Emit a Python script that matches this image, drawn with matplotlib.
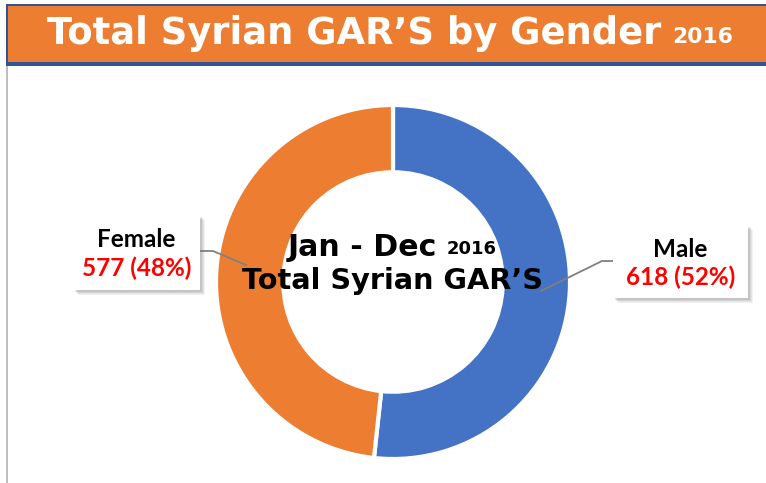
import matplotlib
matplotlib.use("Agg")
import matplotlib.pyplot as plt
from matplotlib.patches import Rectangle

categories = ["Male", "Female"]
values = [618, 577]
colors = ["#4472C4", "#ED7D31"]
title_main = "Total Syrian GAR\u2019S by Gender"
title_year = "2016"
center_line1 = "Jan - Dec"
center_year = "2016"
center_line2 = "Total Syrian GAR\u2019S"

W, H = 766, 483
fig = plt.figure(figsize=(W/100, H/100), dpi=100)
fig.patch.set_facecolor("white")

# pie axes
cx, cy, R = 393, 282, 177
pax = fig.add_axes([(cx-R)/W, (H-cy-R)/H, 2*R/W, 2*R/H])
pax.pie(values, colors=colors, startangle=90, counterclock=False, radius=1,
        wedgeprops=dict(width=0.38, edgecolor="white", linewidth=3))
pax.set_xlim(-1, 1); pax.set_ylim(-1, 1)
pax.axis("off")

# overlay axes in pixel coords
ax = fig.add_axes([0, 0, 1, 1], zorder=5)
ax.set_xlim(0, W); ax.set_ylim(H, 0)
ax.axis("off")
ax.patch.set_alpha(0)

# banner
ax.add_patch(Rectangle((6, 5), W-6, 59, facecolor="#ED7D31", edgecolor="none"))
ax.add_patch(Rectangle((6, 62), W-6, 4, facecolor="#2F5597", edgecolor="none"))
ax.add_patch(Rectangle((6, 4), W-6, 1.5, facecolor="#2F5597", edgecolor="none"))
ax.add_patch(Rectangle((6, 4), 1.5, 60, facecolor="#2F5597", edgecolor="none"))
ax.add_patch(Rectangle((6, 66), 2, H-66, facecolor="#BFBFBF", edgecolor="none"))

r = fig.canvas.get_renderer()

def width_px(t):
    return t.get_window_extent(renderer=r).width

def fit(t, target):
    w = width_px(t)
    t.set_fontsize(t.get_fontsize() * target / w)

tfont = dict(family="DejaVu Sans", weight="bold")
t1 = ax.text(47, 34, title_main, color="white", fontsize=28, va="center", ha="left", **tfont)
fit(t1, 613)
t2 = ax.text(672, 37, title_year, color="white", fontsize=20, va="center", ha="left", **tfont)
fit(t2, 61)

# center text
cfont = dict(family="DejaVu Sans", weight="bold")
c1 = ax.text(288, 247, center_line1, color="black", fontsize=20, va="center", ha="left", **cfont)
fit(c1, 149)
c1y = ax.text(447, 249, center_year, color="black", fontsize=15, va="center", ha="left", **cfont)
fit(c1y, 50)
c2 = ax.text(cx, 281, center_line2, color="black", fontsize=20, va="center", ha="center", **cfont)
fit(c2, 302)

# leader lines
ax.plot([200, 213, 246], [251, 251, 265], color="#808080", lw=1.3, zorder=1)
ax.plot([613, 602, 541], [261, 261, 291], color="#808080", lw=1.3, zorder=1)

# label boxes with soft shadow
def label_box(x, y, w, h, name, val):
    for d, a in [(6, 0.10), (5, 0.12), (4, 0.15), (3, 0.2)]:
        ax.add_patch(Rectangle((x+d-1, y+d-1), w, h, facecolor="#808080",
                               edgecolor="none", alpha=a, zorder=2))
    ax.add_patch(Rectangle((x, y), w, h, facecolor="white", edgecolor="none", zorder=3))
    ax.text(x + w/2, y + h*0.33, name, color="black", fontsize=17.5, weight="bold",
            family="Lato", ha="center", va="center", zorder=4)
    ax.text(x + w/2, y + h*0.71, val, color="#FF0000", fontsize=17.5, weight="bold",
            family="Lato", ha="center", va="center", zorder=4)

total = sum(values)
label_box(73, 215, 127, 75, categories[1], f"{values[1]} ({round(values[1]/total*100)}%)")
label_box(613, 225, 135, 73, categories[0], f"{values[0]} ({round(values[0]/total*100)}%)")

fig.savefig("out.png", dpi=100)
